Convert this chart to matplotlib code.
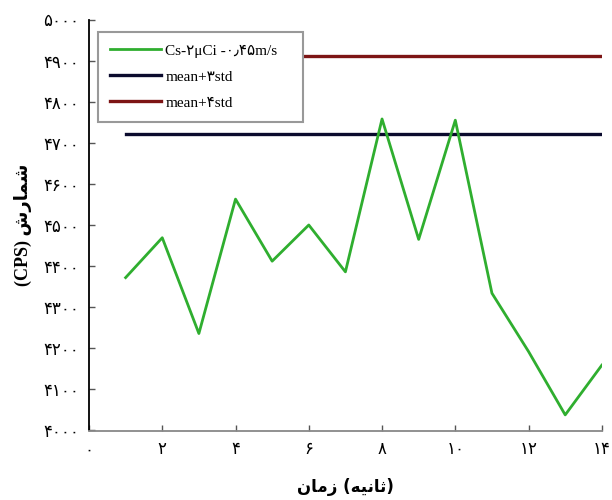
import matplotlib
matplotlib.use("Agg")
import matplotlib.pyplot as plt

plt.rcParams["font.family"] = ["DejaVu Sans"]

# داده‌ها (خوانده شده از نمودار)
time_s = [1, 2, 3, 4, 5, 6, 7, 8, 9, 10, 11, 12, 13, 14]
counts = [4372, 4469, 4236, 4563, 4412, 4500, 4386, 4758, 4465, 4755, 4334, 4192, 4038, 4159]
mean_3std = 4721
mean_4std = 4911
x_ticks = [0, 2, 4, 6, 8, 10, 12, 14]
y_ticks = [4000, 4100, 4200, 4300, 4400, 4500, 4600, 4700, 4800, 4900, 5000]

FA_DIGITS = str.maketrans("0123456789", "۰۱۲۳۴۵۶۷۸۹")


def fa(v):
    return str(v).translate(FA_DIGITS)


# matplotlib شکل‌دهی عربی ندارد؛ حروف به ترتیب دیداری و با فرم‌های اتصال نوشته شده‌اند
shomaresh = "\ufeb5\ufead\ufe8e\ufee4\ufeb7"   # شمارش
zaman = "\ufee5\ufe8e\ufee3\ufeaf"              # زمان
sanieh = "\ufeea\ufef4\ufee7\ufe8e\ufe9b"       # ثانیه

label_green = "Cs-" + fa(2) + "μCi -" + fa(0) + "\u066b" + fa(45) + "m/s"
label_blue = "mean+" + fa(3) + "std"
label_red = "mean+" + fa(4) + "std"

serif_fa = ["Liberation Serif", "DejaVu Sans"]

fig = plt.figure(figsize=(6.12, 5.0), dpi=100)
ax = fig.add_axes([0.1454, 0.139, 0.838, 0.822])

ax.plot(time_s, counts, color="#2fae2f", lw=2.0, label=label_green, zorder=3)
ax.plot([time_s[0], time_s[-1]], [mean_3std, mean_3std], color="#0b0b2e", lw=2.4,
        label=label_blue, zorder=2)
ax.plot([time_s[0], time_s[-1]], [mean_4std, mean_4std], color="#7d1515", lw=2.4,
        label=label_red, zorder=2)

ax.set_xlim(0, 14)
ax.set_ylim(4000, 5000)
ax.set_xticks(x_ticks)
ax.set_xticklabels([fa(v) for v in x_ticks], fontsize=12)
ax.set_yticks(y_ticks)
ax.set_yticklabels([fa(v) for v in y_ticks], fontsize=12)
ax.tick_params(axis="both", direction="in", length=4, width=1, color="#555555", pad=7)

for side in ["top", "right"]:
    ax.spines[side].set_visible(False)
ax.spines["left"].set_color("black")
ax.spines["left"].set_linewidth(1.3)
ax.spines["bottom"].set_color("#888888")
ax.spines["bottom"].set_linewidth(1.3)

ax.set_ylabel("(CPS) " + shomaresh, fontsize=13, fontweight="bold", labelpad=8,
              family=serif_fa)
ax.set_xlabel(zaman + " (" + sanieh + ")", fontsize=12, fontweight="bold", labelpad=14)

leg = ax.legend(loc="upper left", bbox_to_anchor=(0.018, 0.757, 0.399, 0.213),
                mode="expand", borderaxespad=0, fancybox=False,
                framealpha=1, edgecolor="#999999", handlelength=3.3, handletextpad=0.3,
                labelspacing=0.8, borderpad=0.8,
                prop={"family": serif_fa, "size": 11})
leg.get_frame().set_linewidth(1.5)
leg.set_zorder(5)

fig.savefig("out.png", dpi=100)
